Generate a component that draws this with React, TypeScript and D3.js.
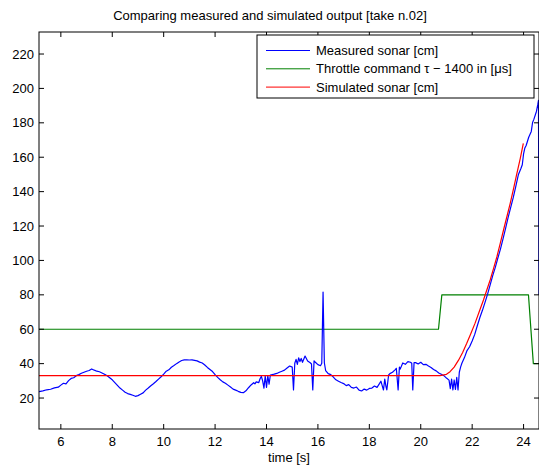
import React from 'react';
import * as d3 from 'd3';

// measured sonar [t (s), cm]
const measured: [number, number][] = [
  [5.15, 23.7], [5.3, 24.2], [5.45, 24.8], [5.6, 25.1], [5.75, 25.9], [5.9, 26.3], [6.0, 27.5],
  [6.1, 28.6], [6.2, 28.2], [6.3, 30.1], [6.4, 31.4], [6.5, 31.8], [6.6, 33.0], [6.7, 33.6],
  [6.8, 34.4], [6.9, 35.0], [7.0, 35.6], [7.1, 36.0], [7.2, 36.9], [7.3, 36.2], [7.4, 35.6],
  [7.5, 35.3], [7.6, 34.6], [7.7, 33.8], [7.8, 32.9], [7.9, 31.8], [8.0, 30.6], [8.1, 29.0],
  [8.2, 27.4], [8.3, 25.8], [8.4, 24.6], [8.5, 23.4], [8.6, 22.6], [8.7, 22.1], [8.8, 21.6],
  [8.9, 21.0], [9.0, 21.4], [9.1, 22.2], [9.2, 23.0], [9.3, 24.6], [9.4, 25.8], [9.5, 27.1],
  [9.6, 28.3], [9.7, 29.6], [9.8, 31.0], [9.9, 32.4], [10.0, 33.9], [10.1, 35.6], [10.2, 36.4],
  [10.3, 37.9], [10.4, 38.9], [10.5, 40.0], [10.6, 41.0], [10.7, 41.8], [10.8, 42.2], [10.9, 42.2],
  [11.0, 42.1], [11.1, 42.2], [11.2, 41.9], [11.3, 41.6], [11.4, 40.9], [11.5, 40.4], [11.6, 39.2],
  [11.7, 37.8], [11.8, 36.6], [11.9, 35.4], [12.0, 33.6], [12.1, 32.0], [12.2, 30.6], [12.3, 29.4],
  [12.4, 28.6], [12.5, 27.5], [12.6, 26.4], [12.7, 25.2], [12.8, 24.6], [12.9, 23.9], [13.0, 23.3],
  [13.1, 23.1], [13.2, 24.2], [13.3, 26.0], [13.4, 27.6], [13.5, 28.9], [13.55, 28.2], [13.6, 29.4],
  [13.7, 29.0], [13.75, 31.2], [13.8, 32.6], [13.85, 30.0], [13.9, 25.8], [13.95, 32.8], [14.0, 26.2],
  [14.05, 33.0], [14.1, 28.0], [14.15, 33.4], [14.3, 33.9], [14.4, 34.3], [14.5, 35.0], [14.6, 35.6],
  [14.7, 36.2], [14.8, 37.5], [14.9, 38.6], [15.0, 38.0], [15.05, 24.7], [15.1, 40.2], [15.15, 42.5],
  [15.2, 39.6], [15.25, 43.4], [15.3, 41.2], [15.35, 43.0], [15.4, 40.8], [15.5, 44.4], [15.6, 41.5],
  [15.7, 40.5], [15.75, 39.8], [15.8, 24.7], [15.85, 41.6], [15.9, 40.8], [16.0, 39.4], [16.1, 38.8],
  [16.15, 40.2], [16.2, 81.6], [16.25, 40.5], [16.3, 36.0], [16.4, 34.2], [16.5, 33.6], [16.6, 32.2],
  [16.7, 30.6], [16.8, 29.8], [16.9, 29.0], [17.0, 28.4], [17.1, 27.2], [17.2, 27.8], [17.3, 26.2],
  [17.4, 25.8], [17.5, 26.4], [17.6, 24.6], [17.7, 24.1], [17.8, 25.2], [17.9, 24.6], [18.0, 25.6],
  [18.1, 25.8], [18.2, 27.0], [18.3, 26.2], [18.4, 28.5], [18.45, 29.8], [18.5, 27.2], [18.55, 24.7],
  [18.6, 31.0], [18.65, 26.5], [18.68, 24.7], [18.75, 33.4], [18.8, 34.2], [18.9, 35.0], [19.0, 36.4],
  [19.05, 37.3], [19.12, 24.7], [19.17, 38.0], [19.2, 36.8], [19.3, 40.4], [19.4, 39.6], [19.5, 41.2],
  [19.6, 40.8], [19.65, 40.2], [19.69, 24.7], [19.74, 40.6], [19.8, 40.6], [19.9, 39.8], [20.0, 40.8],
  [20.1, 39.4], [20.2, 39.6], [20.3, 38.6], [20.4, 37.8], [20.5, 36.6], [20.6, 35.8], [20.7, 34.6],
  [20.8, 33.8], [20.9, 33.0], [21.0, 31.6], [21.1, 30.4], [21.15, 25.5], [21.2, 31.0], [21.25, 24.7],
  [21.3, 30.5], [21.35, 25.0], [21.4, 32.0], [21.45, 24.7], [21.5, 35.0], [21.55, 38.0], [21.6, 40.2],
  [21.7, 43.5], [21.8, 47.6], [21.9, 49.8], [22.0, 53.2], [22.1, 57.0], [22.2, 62.0], [22.3, 66.8],
  [22.4, 71.0], [22.5, 75.6], [22.6, 80.4], [22.7, 85.8], [22.8, 91.2], [22.9, 96.0], [23.0, 101.4],
  [23.1, 106.6], [23.2, 112.5], [23.3, 118.6], [23.4, 125.0], [23.5, 130.8], [23.6, 136.6],
  [23.7, 143.2], [23.8, 150.0], [23.9, 153.6], [23.95, 155.6], [24.0, 162.0], [24.05, 165.4],
  [24.1, 166.8], [24.2, 171.6], [24.3, 175.0], [24.35, 180.2], [24.4, 182.0], [24.5, 186.6],
  [24.55, 190.4], [24.58, 193.0], [24.6, 80.0],
];

// throttle command minus 1400 [us]
const throttle: [number, number][] = [
  [5.15, 60], [20.69, 60], [20.82, 80], [24.19, 80], [24.38, 40], [24.6, 40],
];

// simulated sonar [cm]
const simulated: [number, number][] = [
  [5.15, 33], [20.75, 33], [21.0, 33.8], [21.14, 35.3], [21.3, 38], [21.47, 42], [21.63, 46.5],
  [21.79, 51.8], [21.95, 57.5], [22.11, 63.4], [22.27, 70], [22.44, 77], [22.57, 82.8],
  [22.7, 88.6], [22.83, 95.2], [22.96, 102], [23.09, 109.8], [23.22, 117.7], [23.35, 125.4],
  [23.48, 133.2], [23.61, 141.8], [23.74, 150.6], [23.87, 159.2], [23.99, 168],
];

const xTicks = [6, 8, 10, 12, 14, 16, 18, 20, 22, 24];
const yTicks = [20, 40, 60, 80, 100, 120, 140, 160, 180, 200, 220];

const legendItems = [
  { label: 'Measured sonar [cm]', color: '#0000ff' },
  { label: 'Throttle command τ − 1400 in [μs]', color: '#008000' },
  { label: 'Simulated sonar [cm]', color: '#ff0000' },
];

const W = 539;
const H = 465;
const left = 39;
const right = 539;
const top = 32;
const bottom = 429;
const font = '"Liberation Sans", Arial, Helvetica, sans-serif';

export default function App() {
  const x = d3.scaleLinear().domain([5.15, 24.6]).range([left, right]);
  const y = d3.scaleLinear().domain([2, 232.8]).range([bottom, top]);
  const line = d3
    .line<[number, number]>()
    .x((d) => x(d[0]))
    .y((d) => y(d[1]));

  const tick = 5;

  return (
    <svg
      width={W}
      height={H}
      style={{ position: 'absolute', left: 0, top: 0, background: '#fff' }}
      fontFamily={font}
    >
      <rect x={0} y={0} width={W} height={H} fill="#fff" />
      <defs>
        <clipPath id="plot">
          <rect x={left} y={top} width={right - left} height={bottom - top} />
        </clipPath>
      </defs>

      <g clipPath="url(#plot)" fill="none" strokeWidth={1.2} strokeLinejoin="round">
        <path d={line(throttle) || ''} stroke="#008000" />
        <path d={line(measured) || ''} stroke="#0000ff" />
        <path d={line(simulated) || ''} stroke="#ff0000" />
      </g>

      {/* box */}
      <rect
        x={left}
        y={top}
        width={right - left}
        height={bottom - top}
        fill="none"
        stroke="#000"
        strokeWidth={1}
      />

      {xTicks.map((t) => (
        <g key={'x' + t}>
          <line x1={x(t)} x2={x(t)} y1={bottom} y2={bottom - tick} stroke="#000" />
          <line x1={x(t)} x2={x(t)} y1={top} y2={top + tick} stroke="#000" />
          <text x={x(t)} y={bottom + 17} textAnchor="middle" fontSize={13} fill="#000">
            {t}
          </text>
        </g>
      ))}

      {yTicks.map((t) => (
        <g key={'y' + t}>
          <line x1={left} x2={left + tick} y1={y(t)} y2={y(t)} stroke="#000" />
          <line x1={right} x2={right - tick} y1={y(t)} y2={y(t)} stroke="#000" />
          <text
            x={left - 5}
            y={y(t) + 4.5}
            textAnchor="end"
            fontSize={13}
            fill="#000"
          >
            {t}
          </text>
        </g>
      ))}

      <text x={289} y={462} textAnchor="middle" fontSize={13} fill="#000">
        time [s]
      </text>
      <text x={270} y={20} textAnchor="middle" fontSize={13} fill="#000">
        Comparing measured and simulated output [take n.02]
      </text>

      {/* legend */}
      <rect x={257} y={35} width={277} height={63} fill="#fff" stroke="#000" strokeWidth={1} />
      {legendItems.map((item, i) => {
        const ly = 50.5 + i * 18.3;
        return (
          <g key={item.label}>
            <line x1={266} x2={310} y1={ly} y2={ly} stroke={item.color} />
            <text x={316} y={ly + 4.5} fontSize={13} fill="#000">
              {item.label}
            </text>
          </g>
        );
      })}
    </svg>
  );
}
